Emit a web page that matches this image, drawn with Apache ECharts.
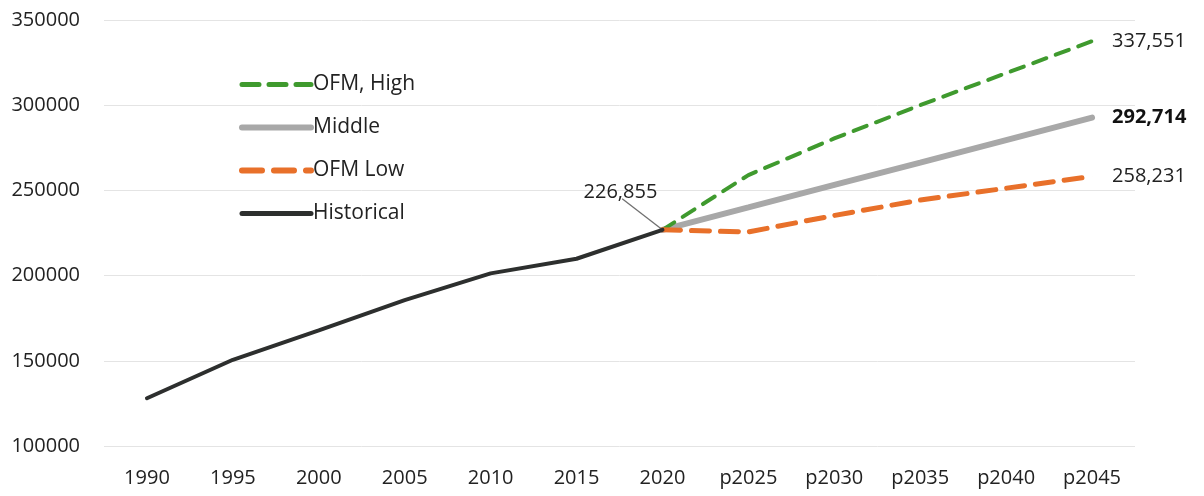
<!DOCTYPE html>
<html>
<head>
<meta charset="utf-8">
<script src="https://cdn.jsdelivr.net/npm/echarts@6/dist/echarts.min.js"></script>
<style>
html,body{margin:0;padding:0;background:#fff;}
#c{width:1204px;height:496px;}
</style>
</head>
<body>
<div id="c"></div>
<script>
var categories = ['1990','1995','2000','2005','2010','2015','2020','p2025','p2030','p2035','p2040','p2045'];
var historical = [128000,150600,167800,185600,201300,209900,226855,null,null,null,null,null];
var ofmHigh = [null,null,null,null,null,null,226855,259000,280500,300000,318800,337551];
var middle = [null,null,null,null,null,null,226855,240000,253200,266300,279500,292714];
var ofmLow = [null,null,null,null,null,null,226855,225600,235300,244300,251300,258231];
var yTicks = [100000,150000,200000,250000,300000,350000];
var calloutIndex = 6;

var FONT = '"Open Sans", "Noto Sans", sans-serif';
var chart = echarts.init(document.getElementById('c'), null, {renderer:'canvas'});

function fmt(v){ return String(v).replace(/\B(?=(\d{3})+(?!\d))/g, ','); }

// visible callout text (on Historical)
var histData = historical.map(function(v, i){
  if (i !== calloutIndex) return v;
  return {
    value: v,
    label: {show:true, position:'top', formatter:function(p){return fmt(p.value);}, fontSize:20, color:'#222', fontFamily:FONT}
  };
});
// leader line for the callout (transparent text box on the shared 2020 point)
var lowData = ofmLow.map(function(v, i){
  if (i !== calloutIndex) return v;
  return {
    value: v,
    label: {show:true, position:'top', formatter:'226,', fontSize:20, color:'rgba(0,0,0,0)', fontFamily:FONT},
    labelLine: {show:true, lineStyle:{color:'#707070', width:1.3}}
  };
});

var endLbl = function(bold, dist){
  return {show:true, formatter:function(p){return fmt(p.value);}, distance:dist, fontSize:20, fontWeight: bold ? 'bold' : 'normal', color: bold ? '#111' : '#222', fontFamily:FONT};
};

var option = {
  animation:false,
  backgroundColor:'#ffffff',
  textStyle:{fontFamily:FONT},
  grid:{left:104, right:69, top:20, bottom:50},
  legend:{
    orient:'vertical', left:234, top:69, itemWidth:69, itemHeight:14, itemGap:22,
    itemStyle:{opacity:0},
    textStyle:{fontSize:21, color:'#222', fontFamily:FONT, padding:[0,0,0,-3]},
    data:[
      {name:'OFM, High', lineStyle:{width:5, type:[17,10], cap:'round'}},
      {name:'Middle', lineStyle:{width:6, cap:'round'}},
      {name:'OFM Low', lineStyle:{width:6, type:[20,12], cap:'round'}},
      {name:'Historical', lineStyle:{width:5, cap:'round'}}
    ]
  },
  xAxis:{
    type:'category', data:categories, boundaryGap:true,
    axisLine:{show:false}, axisTick:{show:false},
    axisLabel:{fontSize:20, color:'#222', margin:22, fontFamily:FONT}
  },
  yAxis:{
    type:'value', min:yTicks[0], max:yTicks[yTicks.length-1], interval:50000,
    axisLine:{show:false}, axisTick:{show:false},
    axisLabel:{fontSize:20, color:'#222', margin:24, fontFamily:FONT, formatter:function(v){return String(v);}},
    splitLine:{lineStyle:{color:'#e4e4e4', width:1}}
  },
  series:[
    {
      name:'Middle', type:'line', data:middle, symbol:'none', z:3,
      lineStyle:{color:'#a8a8a8', width:6, cap:'round'}, itemStyle:{color:'#a8a8a8'},
      endLabel:endLbl(true, 20)
    },
    {
      name:'OFM, High', type:'line', data:ofmHigh, symbol:'none', z:4,
      lineStyle:{color:'#3f9a2e', width:4, type:[14,10], cap:'round'}, itemStyle:{color:'#3f9a2e'},
      endLabel:endLbl(false, 20)
    },
    {
      name:'OFM Low', type:'line', data:lowData, symbol:'circle', symbolSize:0.1, showSymbol:true, z:5,
      lineStyle:{color:'#e8702a', width:5, type:[18,11], cap:'round'}, itemStyle:{color:'#e8702a'},
      label:{show:false}, labelLine:{show:false},
      labelLayout:function(params){ if(params.dataIndex===calloutIndex){return {dx:-60, dy:-16};} return {}; },
      endLabel:endLbl(false, 20)
    },
    {
      name:'Historical', type:'line', data:histData, symbol:'circle', symbolSize:0.1, showSymbol:true, z:6,
      lineStyle:{color:'#2d2f2e', width:4, cap:'round'}, itemStyle:{color:'#2d2f2e'},
      label:{show:false},
      labelLayout:function(params){ if(params.dataIndex===calloutIndex){return {dx:-42, dy:-22};} return {}; }
    }
  ]
};
chart.setOption(option);
</script>
</body>
</html>
